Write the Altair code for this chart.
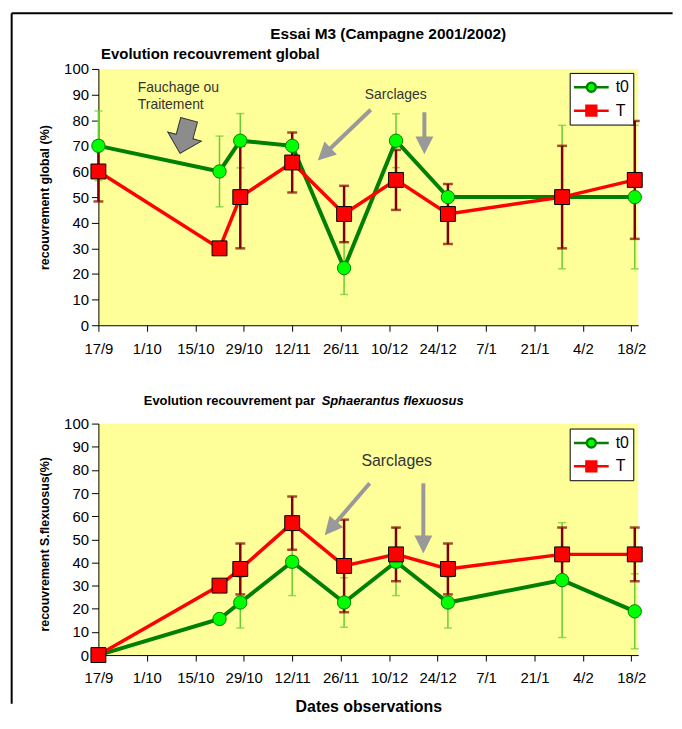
import altair as alt
import pandas as pd
from datetime import datetime, timedelta

# ---------------- data ----------------
series_names = ["t0", "T"]
obs_dates = ["2001/09/17", "2001/10/22", "2001/10/28", "2001/11/12", "2001/11/27",
             "2001/12/12", "2001/12/27", "2002/01/29", "2002/02/19"]

glob_t0 = [70, 60, 72, 70, 22.3, 72, 50, 50, 50]
glob_t0_err = [13.6, 13.8, 10.6, None, 10.3, 10.5, None, 28, 28]
glob_T = [60, 30, 50, 63.5, 43.4, 56.7, 43.4, 50, 56.7]
glob_T_err = [11.7, None, 20, 11.7, 11, 11.7, 11.7, 20, 23]

sf_t0 = [0, 15.6, 22.7, 40.3, 22.7, 40.3, 22.7, 32.4, 18.9]
sf_t0_err = [None, None, 11, 14.6, 10.7, 14.6, 11, 24.8, 16.2]
sf_T = [0, 30, 37.2, 57, 38.5, 43.5, 37.2, 43.5, 43.5]
sf_T_err = [None, None, 11, 11.5, 20, 11.6, 11, 11.6, 11.6]

tick_dates = [(2001, 9, 17), (2001, 10, 1), (2001, 10, 15), (2001, 10, 29), (2001, 11, 12),
              (2001, 11, 26), (2001, 12, 10), (2001, 12, 24), (2002, 1, 7), (2002, 1, 21),
              (2002, 2, 4), (2002, 2, 18)]
domain_dates = [(2001, 9, 17), (2002, 2, 20)]
y_ticks = list(range(0, 101, 10))

# annotations (day offset from 17/9, value)
top_texts = ["Fauchage ou", "Traitement", "Sarclages"]
top_text_days = [11.4, 11.4, 77.0]
top_text_vals = [92.7, 86.1, 90.0]
top_arrow_start = [(78.7, 84.1), (94.2, 83.1)]
top_arrow_end = [(66.1, 67.8), (94.2, 72.1)]
top_arrow_tip = [(63.4, 64.3), (94.2, 66.7)]
top_arrow_angle = [46, 0]
top_block = (24.9, 73.6)

bot_texts = ["Sarclages"]
bot_text_days = [76.0]
bot_text_vals = [83.9]
bot_arrow_start = [(78.4, 74.2), (93.9, 74.2)]
bot_arrow_end = [(67.9, 56.0), (93.9, 49.5)]
bot_arrow_tip = [(65.4, 51.8), (93.9, 43.9)]
bot_arrow_angle = [40.5, 0]

BASE = datetime(2001, 9, 17)

# ---------------- styles ----------------
FONT = "Liberation Sans"
YELLOW = "#FFFF99"
G_LINE, G_FILL, G_ERR = "#008000", "#00FF00", "#66CC33"
R_LINE, R_FILL, R_ERR = "#FF0000", "#FF0000", "#800000"
ARROW = "#999999"
HEAD = "M0,0L-1,-2L1,-2Z"
BLOCK = "M-0.5,-1L0.5,-1L0.5,0L1,0L0,1L-1,0L-0.5,0Z"
LEG_CIRCLE = "M-1.944,0L-0.5,0M0.5,0L1.944,0M-0.5,0A0.5,0.5,0,1,1,0.5,0A0.5,0.5,0,1,1,-0.5,0Z"
LEG_SQUARE = "M-1.944,0L-0.55,0M0.55,0L1.944,0M-0.55,-0.55L0.55,-0.55L0.55,0.55L-0.55,0.55Z"
W = 543.4


def dt(t):
    return alt.DateTime(year=t[0], month=t[1], date=t[2])


def to_date(days):
    return (BASE + timedelta(days=days)).strftime("%Y/%m/%d %H:%M")


def series_df(vals, errs, name):
    rows = []
    for d, v, e in zip(obs_dates, vals, errs):
        rows.append({"date": d, "value": v, "series": name,
                     "lo": (v - e) if e is not None else None,
                     "hi": (v + e) if e is not None else None})
    return pd.DataFrame(rows)


def make_panel(t0, t0e, T, Te, height, ytitle, ytitle_y, leg_y, texts, tdays, tvals,
               tsize, a_start, a_end, a_tip, a_angle, block, extra_layers, xtitle):
    xaxis_kw = dict(values=[dt(d) for d in tick_dates], format="%-d/%-m", labelFontSize=15,
                    labelColor="black", tickSize=6, tickColor="black", domainColor="black",
                    labelPadding=10, labelFlush=False, labelOverlap=False, grid=False)
    if xtitle:
        xaxis_kw.update(title=xtitle, titleFontSize=16, titleFontWeight="bold",
                        titleColor="black", titleX=W / 2, titleY=52, titleAlign="center",
                        titleBaseline="middle")
    else:
        xaxis_kw.update(title=None)
    xaxis = alt.Axis(**xaxis_kw)
    yaxis = alt.Axis(values=y_ticks, labelFontSize=15, labelColor="black", tickSize=7,
                     tickColor="black", domainColor="black", labelPadding=3, grid=False,
                     title=ytitle, titleFontSize=12.5, titleFontWeight="bold", titleColor="black",
                     titleX=-54, titleY=ytitle_y, titleAngle=270, titleAlign="center",
                     titleBaseline="middle")
    xscale = alt.Scale(domain=[dt(d) for d in domain_dates])
    yscale = alt.Scale(domain=[0, 100], nice=False)

    def xenc(f):
        return alt.X(f, type="temporal", scale=xscale, axis=xaxis)

    def yenc(f):
        return alt.Y(f, type="quantitative", scale=yscale, axis=yaxis)

    g = series_df(t0, t0e, "t0")
    r = series_df(T, Te, "T")
    valid = "isValid(datum.lo)"

    layers = []
    for df, col, w, cap, th in [(g, G_ERR, 1.5, 8, 1.5), (r, R_ERR, 2.5, 10, 2.5)]:
        base = alt.Chart(df).transform_filter(valid)
        layers.append(base.mark_rule(color=col, strokeWidth=w).encode(
            x=xenc("date"), y=yenc("lo"), y2="hi:Q"))
        layers.append(base.mark_tick(color=col, orient="horizontal", size=cap, thickness=th).encode(
            x=xenc("date"), y=yenc("lo")))
        layers.append(base.mark_tick(color=col, orient="horizontal", size=cap, thickness=th).encode(
            x=xenc("date"), y=yenc("hi")))
    layers.append(alt.Chart(g).mark_line(color=G_LINE, strokeWidth=4).encode(
        x=xenc("date"), y=yenc("value")))
    layers.append(alt.Chart(r).mark_line(color=R_LINE, strokeWidth=3.5).encode(
        x=xenc("date"), y=yenc("value")))
    layers.append(alt.Chart(g).mark_point(shape="circle", filled=True, fill=G_FILL, stroke=G_LINE,
                                          strokeWidth=1, size=180, opacity=1).encode(
        x=xenc("date"), y=yenc("value")))
    layers.append(alt.Chart(r).mark_point(shape="square", filled=True, fill=R_FILL, stroke="black",
                                          strokeWidth=1, size=225, opacity=1).encode(
        x=xenc("date"), y=yenc("value")))

    # annotations
    tdf = pd.DataFrame({"date": [to_date(d) for d in tdays], "value": tvals, "label": texts})
    layers.append(alt.Chart(tdf).mark_text(align="left", baseline="middle", fontSize=tsize,
                                           color="#333333").encode(
        x=xenc("date"), y=yenc("value"), text="label:N"))
    adf = pd.DataFrame({"date": [to_date(s[0]) for s in a_start], "value": [s[1] for s in a_start],
                        "date2": [to_date(e[0]) for e in a_end], "value2": [e[1] for e in a_end]})
    layers.append(alt.Chart(adf).mark_rule(color=ARROW, strokeWidth=4).encode(
        x=xenc("date"), y=yenc("value"), x2="date2:T", y2="value2:Q"))
    hdf = pd.DataFrame({"date": [to_date(t[0]) for t in a_tip], "value": [t[1] for t in a_tip],
                        "angle": a_angle})
    layers.append(alt.Chart(hdf).mark_point(shape=HEAD, filled=True, color=ARROW, size=324,
                                            opacity=1).encode(
        x=xenc("date"), y=yenc("value"), angle=alt.Angle("angle:Q", scale=None)))
    if block is not None:
        bdf = pd.DataFrame({"date": [to_date(block[0])], "value": [block[1]]})
        layers.append(alt.Chart(bdf).mark_point(shape=BLOCK, filled=True, fill="#8c8c8c",
                                                stroke="#333333", strokeWidth=1, size=1225,
                                                angle=15, opacity=1).encode(
            x=xenc("date"), y=yenc("value")))

    # legend carrier
    leg = alt.Legend(orient="none", legendX=474.4, legendY=leg_y, title=None, labelFontSize=16,
                     labelColor="black", symbolSize=324, symbolStrokeWidth=2.5, symbolOffset=7.3,
                     padding=4, rowPadding=3.5, strokeColor="black", fillColor="white",
                     labelOffset=14)
    layers.append(alt.Chart(g).transform_filter("false").mark_point(filled=True, opacity=1).encode(
        x=xenc("date"), y=yenc("value"),
        shape=alt.Shape("series:N", scale=alt.Scale(domain=series_names,
                                                    range=[LEG_CIRCLE, LEG_SQUARE]), legend=leg),
        fill=alt.Fill("series:N", scale=alt.Scale(domain=series_names,
                                                  range=[G_FILL, R_FILL]), legend=leg),
        stroke=alt.Stroke("series:N", scale=alt.Scale(domain=series_names,
                                                      range=[G_LINE, R_LINE]), legend=leg)))
    layers.extend(extra_layers)
    return alt.layer(*layers).properties(width=W, height=height)


one = pd.DataFrame({"k": [0]})
frame_top = [
    alt.Chart(one).mark_rule(color="black", strokeWidth=2).encode(
        x=alt.value(-87.3), x2=alt.value(578), y=alt.value(-56)),
    alt.Chart(one).mark_rule(color="black", strokeWidth=2).encode(
        x=alt.value(-87.3), y=alt.value(-56), y2=alt.value(639)),
    alt.Chart(one).mark_text(align="center", baseline="middle", fontSize=15.5, fontWeight="bold",
                             color="black").encode(
        x=alt.value(291.7), y=alt.value(-35), text=alt.value("Essai M3 (Campagne 2001/2002)")),
    alt.Chart(one).mark_text(align="left", baseline="middle", fontSize=15, fontWeight="bold",
                             color="black").encode(
        x=alt.value(2.7), y=alt.value(-15), text=alt.value("Evolution recouvrement  global")),
]
frame_bot = [
    alt.Chart(one).mark_text(align="left", baseline="middle", fontSize=13, fontWeight="bold",
                             color="black").encode(
        x=alt.value(45.7), y=alt.value(-22.3), text=alt.value("Evolution recouvrement par ")),
    alt.Chart(one).mark_text(align="left", baseline="middle", fontSize=13, fontWeight="bold",
                             fontStyle="italic", color="black").encode(
        x=alt.value(224.7), y=alt.value(-22.3), text=alt.value("Sphaerantus flexuosus")),
]

top = make_panel(glob_t0, glob_t0_err, glob_T, glob_T_err, 258, "recouvrement global (%)", 129, 4,
                 top_texts, top_text_days, top_text_vals, 14, top_arrow_start, top_arrow_end,
                 top_arrow_tip, top_arrow_angle, top_block, frame_top, None)
bot = make_panel(sf_t0, sf_t0_err, sf_T, sf_T_err, 233, "recouvrement S.flexuosus(%)", 121, 5,
                 bot_texts, bot_text_days, bot_text_vals, 16, bot_arrow_start, bot_arrow_end,
                 bot_arrow_tip, bot_arrow_angle, None, frame_bot, "Dates observations")

chart = alt.vconcat(top, bot, spacing=99, bounds="flush").resolve_scale(
    shape="independent", fill="independent", stroke="independent"
).resolve_legend(
    shape="independent", fill="independent", stroke="independent"
).properties(
    padding={"left": 2, "top": 2, "right": 0, "bottom": 0}
).configure(font=FONT).configure_view(fill=YELLOW, stroke=None)

chart.save("out.html", embed_options={"renderer": "svg", "actions": False})
